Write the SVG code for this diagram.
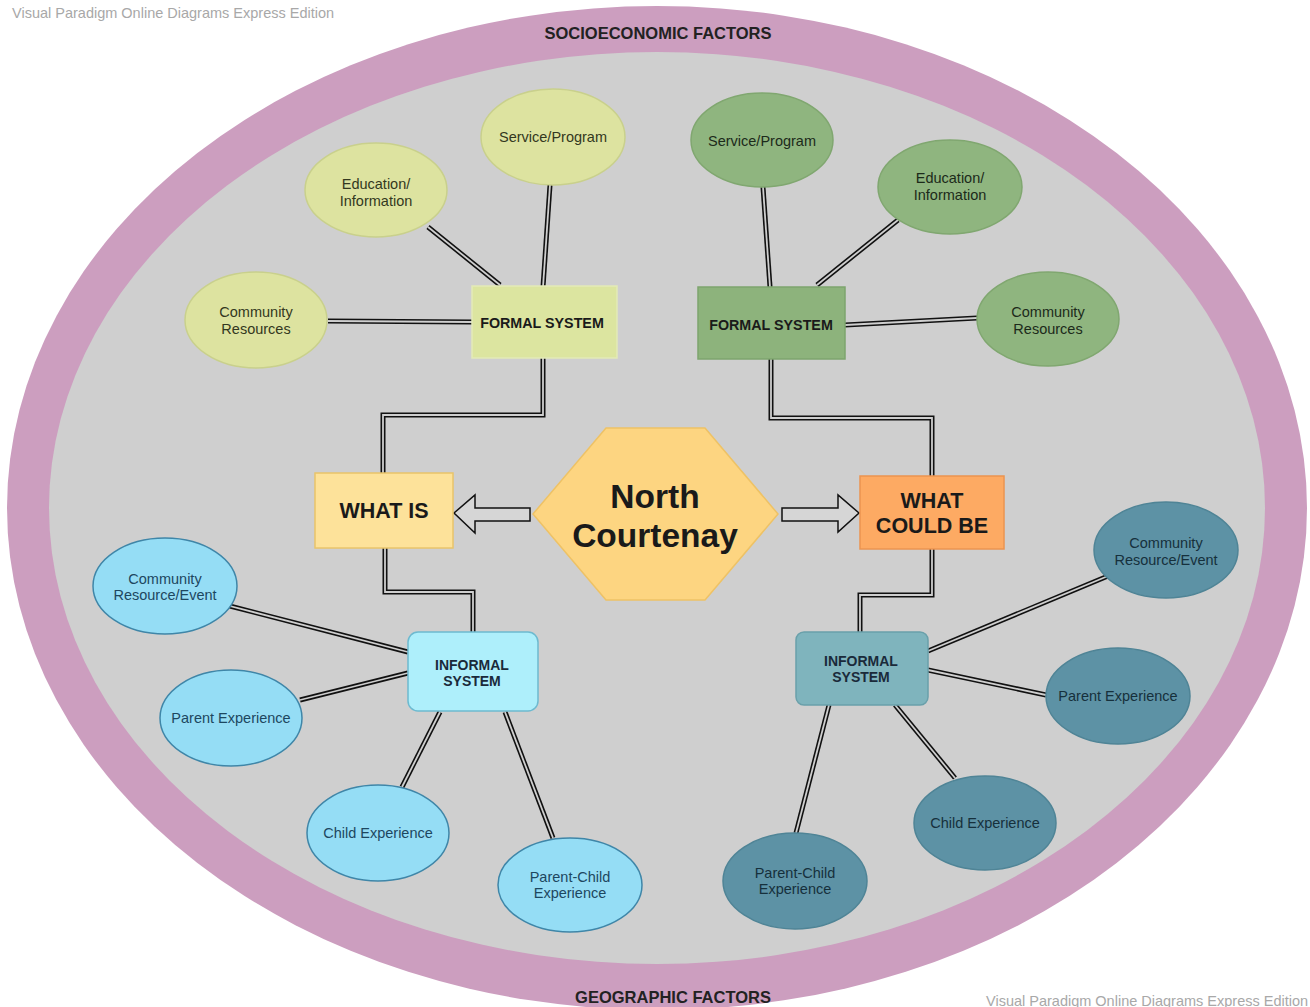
<svg xmlns="http://www.w3.org/2000/svg" width="1310" height="1007" viewBox="0 0 1310 1007">
<defs>
<style>
text{font-family:"Liberation Sans",Arial,sans-serif;text-anchor:middle}
.wm{fill:#a8a8a8;font-size:14.5px;text-anchor:start}
.band{font-size:16.5px;font-weight:bold;fill:#222}
.lf{fill:#dde3a0;stroke:#c9d08c;stroke-width:1.5}
.lft{font-size:14.5px;fill:#333820}
.rf{fill:#8fb57f;stroke:#80a770;stroke-width:1.5}
.rft{font-size:14.5px;fill:#1c2a1a}
.li{fill:#95ddf5;stroke:#3f86a8;stroke-width:1.5}
.lit{font-size:14.5px;fill:#1d4760}
.ri{fill:#5d92a5;stroke:#4f8496;stroke-width:1.5}
.rit{font-size:14.5px;fill:#16303c}
.sys{font-size:14.3px;font-weight:bold;fill:#1a1a1a}
.isys{font-size:14px;font-weight:bold;fill:#1a2a3a}
.big{font-size:21.5px;font-weight:bold;fill:#1a1a1a}
.hex{font-size:33.5px;font-weight:bold;fill:#1a1a1a}
.dbo{fill:none;stroke:#111;stroke-width:5;stroke-linejoin:miter}
.dbi{fill:none;stroke:#cfcfcf;stroke-width:1.8;stroke-linejoin:miter}
.arr{fill:#d6d6d6;stroke:#111;stroke-width:1.5}
</style>
</defs>
<rect width="1310" height="1007" fill="#fff"/>
<g id="background">
<ellipse cx="657" cy="508" rx="650" ry="502" fill="#cc9ebf"/>
<ellipse cx="657" cy="508" rx="608" ry="456" fill="#cfcfcf"/>
<text class="band" x="658" y="39">SOCIOECONOMIC FACTORS</text>
<text class="band" x="673" y="1003">GEOGRAPHIC FACTORS</text>
<text class="wm" x="12" y="18">Visual Paradigm Online Diagrams Express Edition</text>
<text class="wm" x="986" y="1006">Visual Paradigm Online Diagrams Express Edition</text>
</g>
<g id="connectors">
<g class="dbo">
<path d="M550,185 L543,287"/><path d="M428,227 L500,285"/><path d="M328,321 L472,322"/>
<path d="M543,358 V415 H383 V473"/>
<path d="M763,187 L770,287"/><path d="M898,220 L817,285"/><path d="M845,325 L977,318"/>
<path d="M771,359 V418 H932 V476"/>
<path d="M385,548 V592 H473 V632"/>
<path d="M222,604 L408,652"/><path d="M300,700 L408,673"/><path d="M402,787 L440,712"/><path d="M553,838 L505,712"/>
<path d="M932,549 V595 H860 V632"/>
<path d="M928,651 L1108,576"/><path d="M928,670 L1046,695"/><path d="M895,705 L955,778"/><path d="M829,705 L796,833"/>
</g>
<g class="dbi">
<path d="M550,185 L543,287"/><path d="M428,227 L500,285"/><path d="M328,321 L472,322"/>
<path d="M543,358 V415 H383 V473"/>
<path d="M763,187 L770,287"/><path d="M898,220 L817,285"/><path d="M845,325 L977,318"/>
<path d="M771,359 V418 H932 V476"/>
<path d="M385,548 V592 H473 V632"/>
<path d="M222,604 L408,652"/><path d="M300,700 L408,673"/><path d="M402,787 L440,712"/><path d="M553,838 L505,712"/>
<path d="M932,549 V595 H860 V632"/>
<path d="M928,651 L1108,576"/><path d="M928,670 L1046,695"/><path d="M895,705 L955,778"/><path d="M829,705 L796,833"/>
</g>
<path id="arrow-left" class="arr" d="M530,508 L475,508 L475,495 L454,513 L475,533 L475,521 L530,521 Z"/>
<path id="arrow-right" class="arr" d="M782,508 L838,508 L838,495 L859,513 L838,532 L838,521 L782,521 Z"/>
</g>
<g id="lf-service"><ellipse class="lf" cx="553" cy="137" rx="72" ry="48"/><text class="lft" x="553" y="142">Service/Program</text></g>
<g id="lf-education"><ellipse class="lf" cx="376" cy="190" rx="71" ry="47"/><text class="lft" x="376" y="189">Education/</text><text class="lft" x="376" y="206">Information</text></g>
<g id="lf-community"><ellipse class="lf" cx="256" cy="320" rx="71" ry="48"/><text class="lft" x="256" y="317">Community</text><text class="lft" x="256" y="334">Resources</text></g>
<g id="lf-formal"><rect x="472" y="286" width="145" height="72" fill="#dce5a0" stroke="#e3eab8" stroke-width="1.5"/><text class="sys" x="542" y="328">FORMAL SYSTEM</text></g>
<g id="rf-service"><ellipse class="rf" cx="762" cy="140" rx="71" ry="47"/><text class="rft" x="762" y="146">Service/Program</text></g>
<g id="rf-education"><ellipse class="rf" cx="950" cy="187" rx="72" ry="47"/><text class="rft" x="950" y="183">Education/</text><text class="rft" x="950" y="200">Information</text></g>
<g id="rf-community"><ellipse class="rf" cx="1048" cy="319" rx="71" ry="47"/><text class="rft" x="1048" y="317">Community</text><text class="rft" x="1048" y="334">Resources</text></g>
<g id="rf-formal"><rect x="698" y="287" width="147" height="72" fill="#8db37c" stroke="#7ea56e" stroke-width="1.5"/><text class="sys" x="771" y="330">FORMAL SYSTEM</text></g>
<g id="what-is"><rect x="315" y="473" width="138" height="75" fill="#fde29a" stroke="#e9c46a" stroke-width="1.5"/><text class="big" x="384" y="518">WHAT IS</text></g>
<g id="north-courtenay"><polygon points="533,514 606,428 705,428 778,514 705,600 606,600" fill="#fdd581" stroke="#eec265" stroke-width="1.5"/><text class="hex" x="655" y="508">North</text><text class="hex" x="655" y="547">Courtenay</text></g>
<g id="what-could-be"><rect x="860" y="476" width="144" height="73" fill="#fdaa63" stroke="#eb9450" stroke-width="1.5"/><text class="big" x="932" y="508">WHAT</text><text class="big" x="932" y="533">COULD BE</text></g>
<g id="li-community"><ellipse class="li" cx="165" cy="586" rx="72" ry="48"/><text class="lit" x="165" y="584">Community</text><text class="lit" x="165" y="600">Resource/Event</text></g>
<g id="li-parent"><ellipse class="li" cx="231" cy="718" rx="71" ry="48"/><text class="lit" x="231" y="723">Parent Experience</text></g>
<g id="li-child"><ellipse class="li" cx="378" cy="833" rx="71" ry="48"/><text class="lit" x="378" y="838">Child Experience</text></g>
<g id="li-parentchild"><ellipse class="li" cx="570" cy="885" rx="72" ry="47"/><text class="lit" x="570" y="882">Parent-Child</text><text class="lit" x="570" y="898">Experience</text></g>
<g id="li-informal"><rect x="408" y="632" width="130" height="79" rx="10" fill="#aeeffb" stroke="#6dbad0" stroke-width="1.5"/><text class="isys" x="472" y="670">INFORMAL</text><text class="isys" x="472" y="686">SYSTEM</text></g>
<g id="ri-community"><ellipse class="ri" cx="1166" cy="550" rx="72" ry="48"/><text class="rit" x="1166" y="548">Community</text><text class="rit" x="1166" y="565">Resource/Event</text></g>
<g id="ri-parent"><ellipse class="ri" cx="1118" cy="696" rx="72" ry="48"/><text class="rit" x="1118" y="701">Parent Experience</text></g>
<g id="ri-child"><ellipse class="ri" cx="985" cy="823" rx="71" ry="47"/><text class="rit" x="985" y="828">Child Experience</text></g>
<g id="ri-parentchild"><ellipse class="ri" cx="795" cy="881" rx="72" ry="48"/><text class="rit" x="795" y="878">Parent-Child</text><text class="rit" x="795" y="894">Experience</text></g>
<g id="ri-informal"><rect x="796" y="632" width="132" height="73" rx="8" fill="#7fb4bd" stroke="#6aa0aa" stroke-width="1.5"/><text class="isys" x="861" y="666">INFORMAL</text><text class="isys" x="861" y="682">SYSTEM</text></g>
</svg>
